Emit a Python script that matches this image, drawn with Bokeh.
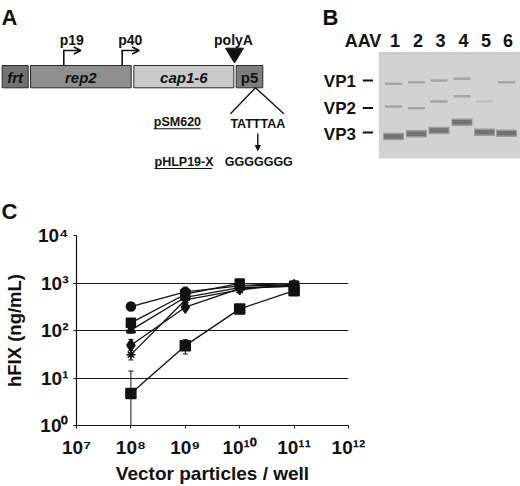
from bokeh.plotting import figure
from bokeh.models import (ColumnDataSource, Range1d, FixedTicker, CustomJSTickFormatter,
                          Arrow, OpenHead, NormalHead, TeeHead, Whisker)
from bokeh.core.properties import value
from bokeh.embed import file_html
from bokeh.resources import INLINE

FONT = "Liberation Sans"

# ---------------- Panel A: construct map ----------------
construct_names = ["frt", "rep2", "cap1-6", "p5"]
construct_start = [1.7, 30.0, 133.3, 235.7]
construct_end = [27.7, 130.7, 233.3, 262.3]
construct_fill = ["#727272", "#8e8e8e", "#cacaca", "#7d7d7d"]
construct_style = ["bold italic", "bold italic", "bold italic", "bold"]
promoter_names = ["p19", "p40"]
promoter_pos = [63.3, 121.7]
polyA_pos = 234.0
p5_site_seq = ["TATTTAA", "GGGGGGG"]
plasmid_names = ["pSM620", "pHLP19-X"]

# ---------------- Panel B: SDS-PAGE ----------------
lane_labels = ["1", "2", "3", "4", "5", "6"]
lane_x = [393, 416, 438.5, 461.5, 484, 506]
vp_labels = ["VP1", "VP2", "VP3"]
vp1_y = [83.3, 81.7, 80.0, 78.3, None, 81.7]
vp2_y = [106.0, 107.7, 101.0, 95.7, 101.0, None]
vp3_y = [136.0, 133.3, 130.0, 121.7, 131.7, 132.7]
vp2_strength = [1, 1, 1, 1, 0.4, 0]

# ---------------- Panel C: hFIX expression ----------------
particles = [1e8, 1e9, 1e10, 1e11]
hfix_circle = [320, 650, 870, 900]
hfix_square = [145, 580, 980, 880]
hfix_triangle = [102, 500, 800, 850]
hfix_diamond = [49, 310, 760, 870]
hfix_star = [31, 440, 720, 960]
hfix_square_low = [4.7, 48, 285, 690]
sd_circle = [20, 170, 60, 60]
sd_square = [15, 60, 60, 60]
sd_triangle = [14, 60, 60, 60]
sd_diamond = [16, 40, 60, 60]
sd_star = [7, 40, 60, 60]
sd_square_low = [9.3, 16, 30, 60]
x_ticks = [1e7, 1e8, 1e9, 1e10, 1e11, 1e12]
y_ticks = [1, 10, 100, 1000, 10000]

BLACK = "#111111"
TEXT_DY = -5.0

# ================= top figure (A + B) =================
top = figure(width=520, height=223, x_range=Range1d(0, 520), y_range=Range1d(223, 0),
             output_backend="svg", toolbar_location=None, min_border=0,
             x_axis_location=None, y_axis_location=None)
top.grid.visible = False
top.outline_line_color = None
top.background_fill_color = "white"
top.border_fill_color = "white"

def txt(fig, x, y, s, size, style="bold", align="left", baseline="alphabetic", color=BLACK):
    fig.text(x=[x], y=[y + TEXT_DY], text=[s], text_font=value(FONT), text_font_size=value(size),
             text_font_style=value(style), text_align=value(align), text_baseline=value(baseline),
             text_color=color)

# panel letters
txt(top, 1, 21.7, "A", "22px")
txt(top, 322, 22, "B", "22px")
txt(top, 1, 215.8, "C", "22px")

# construct boxes
top.quad(left=construct_start, right=construct_end, top=65, bottom=87.3,
         fill_color=construct_fill, line_color="#2a2a2a", line_width=1)
for name, s, e, st in zip(construct_names, construct_start, construct_end, construct_style):
    txt(top, (s + e) / 2, 81.5, name, "15px", style=st, align="center")

# promoters
for name, xp in zip(promoter_names, promoter_pos):
    top.segment(x0=[xp], y0=[65], x1=[xp], y1=[50], line_color=BLACK, line_width=1.6)
    top.add_layout(Arrow(x_start=xp - 0.8, y_start=50, x_end=xp + 17, y_end=50,
                         line_color=BLACK, line_width=1.6,
                         end=OpenHead(size=7, line_color=BLACK, line_width=1.6)))
    txt(top, xp + 8, 44.3, name, "14px", align="center")

# polyA
top.patch(x=[polyA_pos - 9, polyA_pos + 9, polyA_pos], y=[47.7, 47.7, 62.5],
          fill_color=BLACK, line_color=BLACK)
txt(top, polyA_pos - 1, 44.3, "polyA", "14px", align="center")

# p5 mutation
top.segment(x0=[255, 255], y0=[87.3, 87.3], x1=[230, 283.3], y1=[113.3, 113.3],
            line_color=BLACK, line_width=1.4)
txt(top, 257.3, 128.3, p5_site_seq[0], "12.5px", align="center")
top.add_layout(Arrow(x_start=257.3, y_start=133, x_end=257.3, y_end=150,
                     line_color=BLACK, line_width=1.4,
                     end=NormalHead(size=5, fill_color=BLACK, line_color=BLACK)))
txt(top, 258.3, 166.5, p5_site_seq[1], "12.5px", align="center")
txt(top, 153.3, 126.2, plasmid_names[0], "12.5px")
txt(top, 154.0, 166.0, plasmid_names[1], "12.5px")
top.segment(x0=[153.3, 154.0], y0=[128.3, 168.0], x1=[200.0, 211.7], y1=[128.3, 168.0],
            line_color=BLACK, line_width=1.1)

# gel
top.quad(left=378.3, right=520, top=51.7, bottom=158, fill_color="#d2d2d2", line_color=None)
top.quad(left=378.3, right=520, top=51.7, bottom=54, fill_color="#c9c9c9", line_color=None)
for lx, y1, y2, y3, s2 in zip(lane_x, vp1_y, vp2_y, vp3_y, vp2_strength):
    top.rect(x=[lx], y=[y3], width=21, height=7.5, fill_color="#9c9c9c", line_color=None)
    top.rect(x=[lx], y=[y3], width=19, height=4.5, fill_color="#737373", line_color=None)
    if y1 is not None:
        top.rect(x=[lx], y=[y1], width=17, height=2.6, fill_color="#a5a5a5", line_color=None)
    if y2 is not None and s2 > 0:
        top.rect(x=[lx], y=[y2], width=17, height=2.6, fill_color="#a5a5a5", line_color=None,
                 fill_alpha=s2)

txt(top, 362.5, 45, "AAV", "18px", align="center")
for lab, lx in zip(lane_labels, lane_x):
    txt(top, lx + 1.5, 45, lab, "18px", align="center")
for lab, yb, yd in zip(vp_labels, [86.0, 113.0, 138.5], [80.0, 107.5, 132.0]):
    txt(top, 323.3, yb, lab, "17px")
    top.segment(x0=[362.3], y0=[yd], x1=[372.5], y1=[yd], line_color=BLACK, line_width=1.8)

# ================= bottom figure (C) =================
bot = figure(width=520, height=263, x_axis_type="log", y_axis_type="log",
             x_range=Range1d(1e7, 1e12), y_range=Range1d(1, 1e4),
             output_backend="svg", toolbar_location=None,
             min_border_left=68, min_border_right=172, min_border_top=12, min_border_bottom=57)
bot.outline_line_color = None
bot.xgrid.visible = False
bot.ygrid.ticker = FixedTicker(ticks=y_ticks)
bot.ygrid.grid_line_color = "#1a1a1a"
bot.ygrid.grid_line_width = 1.2

fmt = CustomJSTickFormatter(code=r"""
const s = ["\u2070","\u00b9","\u00b2","\u00b3","\u2074","\u2075","\u2076","\u2077","\u2078","\u2079"];
const e = Math.round(Math.log10(tick));
return "10" + String(e).split("").map(d => s[+d]).join("");
""")
for ax, ticks in ((bot.xaxis[0], x_ticks), (bot.yaxis[0], y_ticks)):
    ax.ticker = FixedTicker(ticks=ticks, minor_ticks=[])
    ax.formatter = fmt
    ax.major_label_text_font = FONT
    ax.major_label_text_font_style = "bold"
    ax.major_label_text_font_size = "19px"
    ax.major_label_text_color = BLACK
    ax.axis_line_color = BLACK
    ax.axis_line_width = 1.2
    ax.major_tick_line_color = BLACK
    ax.major_tick_in = 0
    ax.major_tick_out = 3
    ax.minor_tick_line_color = None
    ax.axis_label_text_font = FONT
    ax.axis_label_text_font_style = "bold"
    ax.axis_label_text_color = BLACK

bot.xaxis.axis_label = "Vector particles / well"
bot.xaxis.axis_label_text_font_size = "19px"
bot.xaxis.major_label_standoff = 8
bot.xaxis.axis_label_standoff = 2
bot.yaxis.axis_label = "hFIX (ng/mL)"
bot.yaxis.axis_label_text_font_size = "18.5px"
bot.yaxis.major_label_standoff = 5
bot.yaxis.axis_label_standoff = 10

series = [
    (hfix_circle, sd_circle, "circle", 9),
    (hfix_square, sd_square, "square", 9),
    (hfix_triangle, sd_triangle, "triangle", 9),
    (hfix_diamond, sd_diamond, "diamond", 12),
    (hfix_star, sd_star, "asterisk", 9),
    (hfix_square_low, sd_square_low, "square", 10),
]
for vals, sd, marker, size in series:
    lower = [max(v - s, 1.0) for v, s in zip(vals, sd)]
    upper = [v + s for v, s in zip(vals, sd)]
    src = ColumnDataSource(dict(x=particles, y=vals, lower=lower, upper=upper))
    bot.add_layout(Whisker(base="x", lower="lower", upper="upper", source=src,
                           line_color=BLACK, line_width=1,
                           upper_head=TeeHead(size=5, line_color=BLACK, line_width=1),
                           lower_head=TeeHead(size=5, line_color=BLACK, line_width=1)))
    bot.line("x", "y", source=src, line_color=BLACK, line_width=1.3)
    bot.scatter("x", "y", source=src, marker=marker, size=size,
                fill_color=BLACK, line_color=BLACK, line_width=1.5)

open("out.html", "w", encoding="utf-8").write(file_html([top, bot], INLINE))
